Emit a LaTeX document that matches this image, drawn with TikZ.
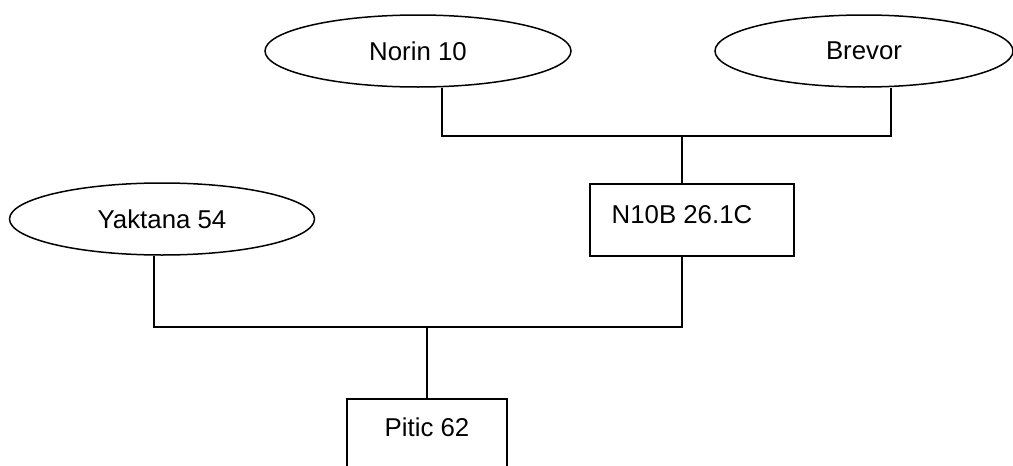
\documentclass[tikz,border=0pt]{standalone}
\usepackage{fontspec}
\setmainfont{Liberation Sans}
\usetikzlibrary{shapes.geometric}
\tikzset{
  every node/.style={font=\fontsize{25.8}{30}\selectfont},
  oval/.style={draw, ellipse, line width=1.5pt, minimum width=306pt, minimum height=72pt, inner sep=0pt},
  crossbox/.style={draw, rectangle, line width=1.5pt, inner sep=0pt},
  link/.style={draw, line width=1.5pt}
}
\begin{document}
\begin{tikzpicture}[x=1pt,y=-1pt]
\useasboundingbox (0,0) rectangle (1013,466);
\clip (0,0) rectangle (1013,466);
\node[oval] (norin) at (418,51) {Norin 10};
\node[oval, minimum width=298pt] (brevor) at (864,51) {Brevor};
\node[oval, minimum width=305pt] (yaktana) at (162,219) {Yaktana 54};
\node[crossbox, minimum width=204pt, minimum height=72pt,
      label={[xshift=-10pt,yshift=5pt]center:N10B 26.1C}] (n10b) at (692,220) {};
\node[crossbox, minimum width=160pt, minimum height=72pt,
      label={[yshift=8pt]center:Pitic 62}] (pitic) at (427,435) {};
\coordinate (jt) at (682,136);
\coordinate (jb) at (427,327);
\draw[link] ([xshift=24pt]norin.south) |- (jt) -| ([xshift=27pt]brevor.south);
\draw[link] (jt) -- ([xshift=-10pt]n10b.north);
\draw[link] ([xshift=-8pt]yaktana.south) |- (jb) -| ([xshift=-10pt]n10b.south);
\draw[link] (jb) -- (pitic.north);
\end{tikzpicture}
\end{document}
